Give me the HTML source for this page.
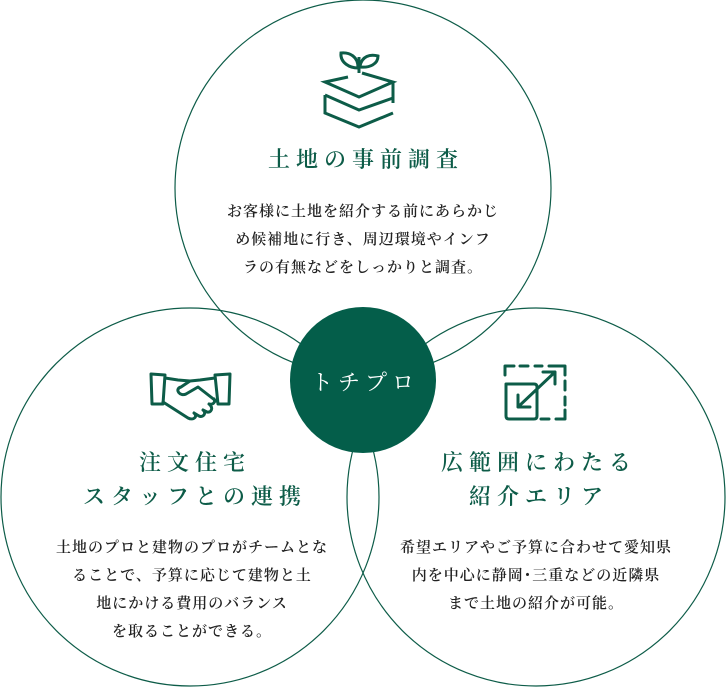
<!DOCTYPE html>
<html><head><meta charset="utf-8"><style>
body{margin:0;width:726px;height:687px;background:#fff;position:relative;overflow:hidden}
.t{position:absolute;text-align:center;font-family:"Liberation Serif","Noto Serif CJK SC",serif;color:#0d5c48;font-size:22px;letter-spacing:6px;line-height:34px;font-weight:600}
.b{position:absolute;text-align:center;font-family:"Liberation Serif","Noto Serif CJK SC",serif;color:#222;font-size:15px;line-height:28px;font-weight:600;letter-spacing:1px}
</style></head><body>
<svg width="726" height="687" style="position:absolute;left:0;top:0">
<g fill="none" stroke="#0d5c48" stroke-width="1.2">
<circle cx="363" cy="188" r="188"/>
<circle cx="190" cy="497" r="189"/>
<circle cx="536" cy="497" r="189"/>
</g>
<circle cx="363" cy="380" r="73" fill="#045e4a"/>
<g fill="none" stroke="#0d5c48" stroke-width="3" stroke-linejoin="miter" stroke-linecap="butt">
<path d="M348 77 L325 82 L359 97 L393 82 L362 73"/>
<path d="M393 82 L393 103"/>
<path d="M325 95 L325 113 L359 127 L393 113"/>
<path d="M325 95 L359 110 L393 98"/>
<path d="M359 73 L359 57"/>
<path d="M358 68 C350 68 340 63 341 53 C350 52 358 57 358 67"/>
<path d="M360 66 C362 56 370 54 378 56 C378 64 370 68 360 67"/>
</g>
<g fill="none" stroke="#0d5c48" stroke-width="3" stroke-linejoin="round" stroke-linecap="round">
<path d="M151 374 L165 375 L163 404 L152 404 Z"/>
<path d="M230 374 L215 375 L218 404 L229 404 Z"/>
<path d="M165 378 L178 380 L190 381 L181 387 C174 389 180 397 186 394 L198 387 L216 401"/>
<path d="M215 378 L200 380 L190 381"/>
<path d="M163 402 L188 418 C194 421 198 416 194 413 M194 413 L199 416 C203 418 207 413 203 410 M203 410 L207 412 C211 413 214 408 209 404 M209 404 C213 405 216 402 214 399"/>
<path d="M514 366 L505 366 L505 375 M520 366 L528 366 M535 366 L542 366 M549 366 L556 366 L565 366 L565 375 M565 381 L565 390 M565 397 L565 405 M565 410 L565 419 L556 419 M549 419 L541 419"/>
<path d="M506 384 L534 384 Q537 384 537 387 L537 416 Q537 419 534 419 L509 419 Q506 419 506 416 Z" fill="#fff"/>
<path d="M518 407 L555 372 M543 372 L555 372 L555 384 M518 395 L518 407 L530 407"/>
</g>
<text x="365" y="390" text-anchor="middle" fill="#fff" font-family="Liberation Serif,Noto Serif CJK SC,serif" font-size="22" letter-spacing="5">トチプロ</text>
</svg>
<div class="t" style="left:163px;top:143px;width:406px">土地の事前調査</div>
<div class="b" style="left:163px;top:198px;width:400px">お客様に土地を紹介する前にあらかじ<br>め候補地に行き、周辺環境やインフ<br>ラの有無などをしっかりと調査。</div>
<div class="t" style="left:0px;top:446px;width:390px">注文住宅<br>スタッフとの連携</div>
<div class="b" style="left:0px;top:534px;width:384px">土地のプロと建物のプロがチームとな<br>ることで、予算に応じて建物と土<br>地にかける費用のバランス<br>を取ることができる。</div>
<div class="t" style="left:344px;top:446px;width:390px">広範囲にわたる<br>紹介エリア</div>
<div class="b" style="left:344px;top:534px;width:384px">希望エリアやご予算に合わせて愛知県<br>内を中心に静岡･三重などの近隣県<br>まで土地の紹介が可能。</div>
</body></html>
